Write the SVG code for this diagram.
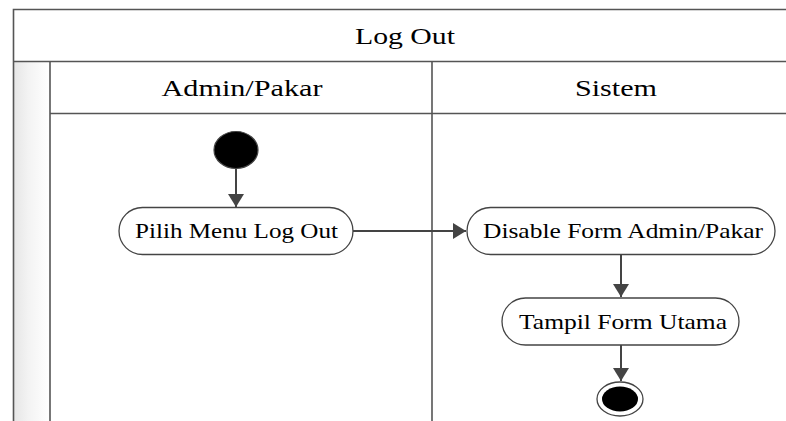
<svg xmlns="http://www.w3.org/2000/svg" width="786" height="421" viewBox="0 0 786 421">
<defs>
<linearGradient id="strip" x1="0" y1="0" x2="1" y2="0">
<stop offset="0" stop-color="#e6e6e6"/>
<stop offset="0.4" stop-color="#f3f3f3"/>
<stop offset="1" stop-color="#ffffff"/>
</linearGradient>
<marker id="arr" markerUnits="userSpaceOnUse" markerWidth="14" markerHeight="16" refX="13" refY="8" orient="auto">
<path d="M0,0 L13,8 L0,16 Z" fill="#444"/>
</marker>
</defs>
<style>
.frame{fill:none;stroke:#555;stroke-width:1.6}
.node{fill:#fff;stroke:#444;stroke-width:1.3}
.conn{fill:none;stroke:#444;stroke-width:2;marker-end:url(#arr)}
.t{fill:#000;text-anchor:middle;font-family:'Liberation Serif',serif}
.hd{font-size:23px}
.lb{font-size:21px}
</style>
<g id="frame">
<rect x="14" y="62" width="36" height="359" fill="url(#strip)"/>
<path class="frame" d="M13.5,421 V9.5 H790 M13.5,61.5 H790 M50,61.5 V421 M50,113.5 H790 M432,61.5 V421"/>
<text class="t hd" x="405" y="44" textLength="100" lengthAdjust="spacingAndGlyphs">Log Out</text>
<text class="t hd" x="242" y="96" textLength="161" lengthAdjust="spacingAndGlyphs">Admin/Pakar</text>
<text class="t hd" x="616" y="96" textLength="82" lengthAdjust="spacingAndGlyphs">Sistem</text>
</g>
<g id="connectors">
<path class="conn" d="M236,169 V207"/>
<path class="conn" d="M353,231 H466"/>
<path class="conn" d="M621,254 V297"/>
<path class="conn" d="M621,345 V381"/>
</g>
<g id="start">
<ellipse cx="236" cy="150" rx="22" ry="18.5" fill="#000" stroke="#444" stroke-width="1.2"/>
</g>
<g id="pilih">
<rect class="node" x="119" y="207.5" width="234" height="47" rx="23.5"/>
<text class="t lb" x="236.5" y="237.5" textLength="203" lengthAdjust="spacingAndGlyphs">Pilih Menu Log Out</text>
</g>
<g id="disable">
<rect class="node" x="467" y="207.5" width="308" height="47" rx="23.5"/>
<text class="t lb" x="623" y="237.5" textLength="280" lengthAdjust="spacingAndGlyphs">Disable Form Admin/Pakar</text>
</g>
<g id="tampil">
<rect class="node" x="502" y="298" width="237" height="47" rx="23.5"/>
<text class="t lb" x="623" y="328.5" textLength="208" lengthAdjust="spacingAndGlyphs">Tampil Form Utama</text>
</g>
<g id="end">
<ellipse cx="620" cy="399" rx="23" ry="17" fill="#fff" stroke="#444" stroke-width="1.3"/>
<ellipse cx="620" cy="399" rx="18" ry="12.5" fill="#000"/>
</g>
</svg>
